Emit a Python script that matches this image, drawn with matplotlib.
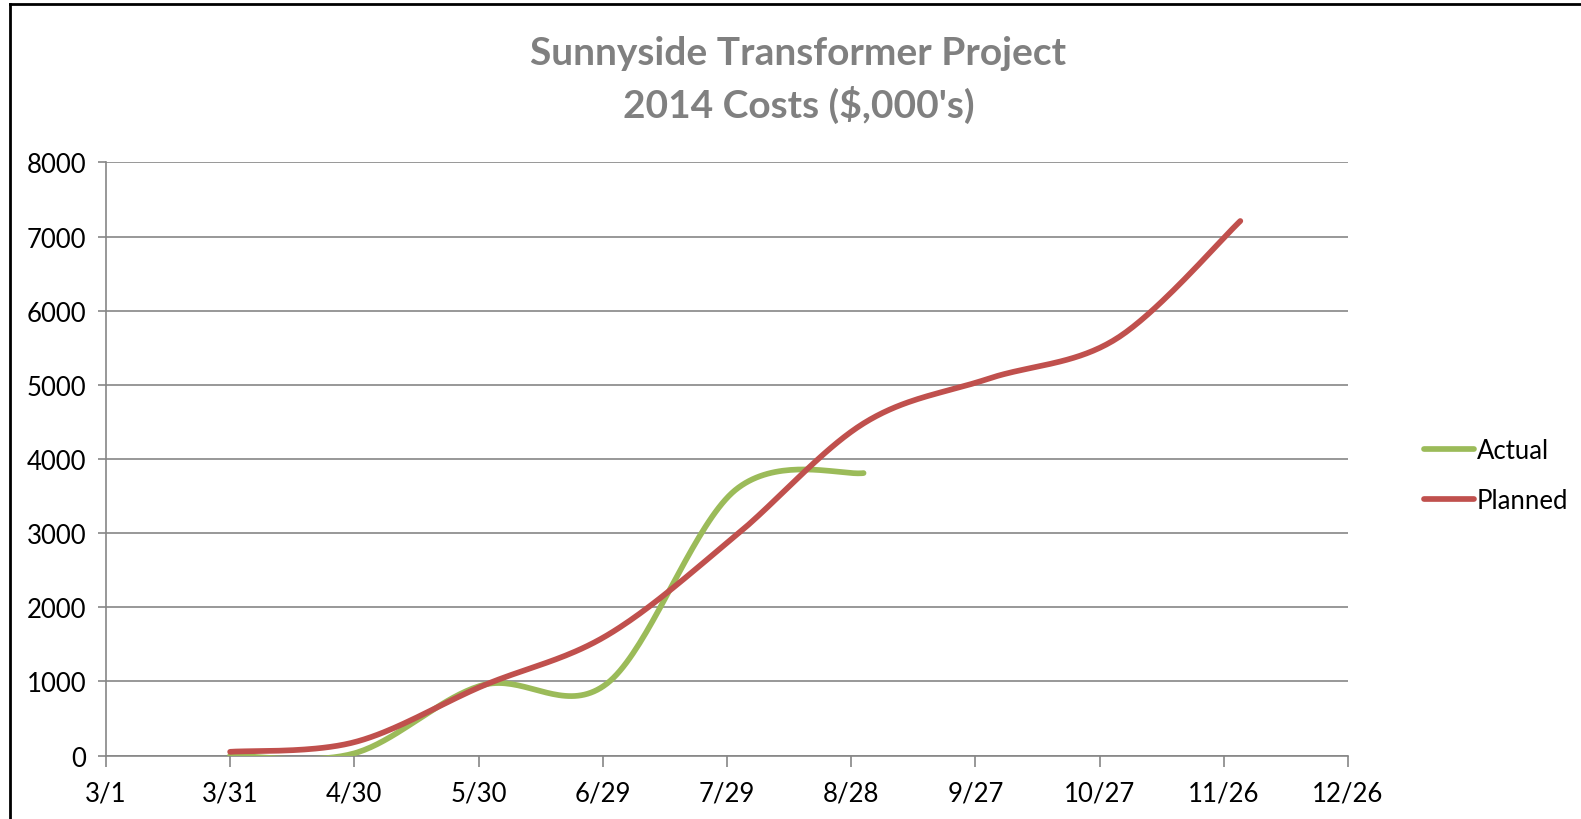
import datetime as dt
import matplotlib
matplotlib.use("Agg")
import matplotlib.pyplot as plt
import matplotlib.dates as mdates
import numpy as np
from matplotlib.lines import Line2D

plt.rcParams['font.family'] = ['Lato', 'DejaVu Sans']

# data (monthly points, Excel smoothed lines)
actual_dates = ["2014-03-31", "2014-04-30", "2014-05-31", "2014-06-30", "2014-07-31", "2014-08-31"]
actual_vals = [0, 30, 950, 970, 3580, 3810]
planned_dates = ["2014-03-31", "2014-04-30", "2014-05-31", "2014-06-30", "2014-07-31",
                 "2014-08-31", "2014-09-30", "2014-10-31", "2014-11-30"]
planned_vals = [50, 180, 940, 1620, 2960, 4480, 5080, 5620, 7210]
tick_start = "2014-03-01"
tick_step_days = 30
n_ticks = 11
y_ticks = [0, 1000, 2000, 3000, 4000, 5000, 6000, 7000, 8000]

GREEN = "#9BBB59"
RED = "#C0504D"
GRID = "#868686"


def smooth(dates, vals, n=40):
    """Excel-like smoothed line: bezier with control points from neighbours."""
    x = mdates.date2num([dt.datetime.strptime(d, "%Y-%m-%d") for d in dates])
    y = np.array(vals, dtype=float)
    P = np.column_stack([x, y])
    k = len(P)
    xs, ys = [], []
    for i in range(k - 1):
        p0 = P[max(i - 1, 0)]
        p1 = P[i]
        p2 = P[i + 1]
        p3 = P[min(i + 2, k - 1)]
        c1 = p1 + (p2 - p0) / 6
        c2 = p2 - (p3 - p1) / 6
        t = np.linspace(0, 1, n)[:, None]
        b = ((1 - t) ** 3) * p1 + 3 * ((1 - t) ** 2) * t * c1 + 3 * (1 - t) * t ** 2 * c2 + t ** 3 * p2
        xs.extend(b[:, 0])
        ys.extend(b[:, 1])
    return np.array(xs), np.array(ys)


fig = plt.figure(figsize=(15.81, 8.2), dpi=100)
ax = fig.add_axes([0.067, 0.0774, 0.7856, 0.7233])

ax_x, ax_y = smooth(actual_dates, actual_vals)
pl_x, pl_y = smooth(planned_dates, planned_vals)
ax.plot(ax_x, ax_y, color=GREEN, lw=4.1, solid_capstyle='round', label='Actual', zorder=3)
ax.plot(pl_x, pl_y, color=RED, lw=4.1, solid_capstyle='round', label='Planned', zorder=4)

start = dt.datetime.strptime(tick_start, "%Y-%m-%d")
xt = [start + dt.timedelta(days=tick_step_days * i) for i in range(n_ticks)]
ax.set_xticks(mdates.date2num(xt))
ax.set_xticklabels([f"{d.month}/{d.day}" for d in xt])
ax.set_xlim(mdates.date2num(xt[0]), mdates.date2num(xt[-1]))
ax.set_yticks(y_ticks)
ax.set_ylim(0, 8000)

ax.yaxis.grid(True, color=GRID, lw=1.2)
ax.set_axisbelow(True)
for s in ['top', 'right']:
    ax.spines[s].set_visible(False)
for s in ['left', 'bottom']:
    ax.spines[s].set_color(GRID)
    ax.spines[s].set_linewidth(1.2)
ax.tick_params(axis='y', length=6, width=1.2, color=GRID, labelsize=18.5, pad=8)
ax.tick_params(axis='x', length=8, width=1.2, color=GRID, labelsize=18.5, pad=10)

fig.text(0.505, 0.935, "Sunnyside Transformer Project", ha='center', va='center',
         fontsize=28, fontweight='bold', color='#808080')
fig.text(0.505, 0.872, "2014 Costs ($,000's)", ha='center', va='center',
         fontsize=28, fontweight='bold', color='#808080')

leg = fig.legend(loc='center left', bbox_to_anchor=(0.894, 0.419), bbox_transform=fig.transFigure,
                 frameon=False, fontsize=18.5, handlelength=1.95, handletextpad=0.12,
                 labelspacing=0.95, borderaxespad=0)

# outer chart border (top and left visible)
fig.add_artist(Line2D([0.0065, 0.0065], [0, 0.994], color='black', lw=2, transform=fig.transFigure))
fig.add_artist(Line2D([0.0065, 1.0], [0.994, 0.994], color='black', lw=2, transform=fig.transFigure))

fig.savefig("out.png", dpi=100)
